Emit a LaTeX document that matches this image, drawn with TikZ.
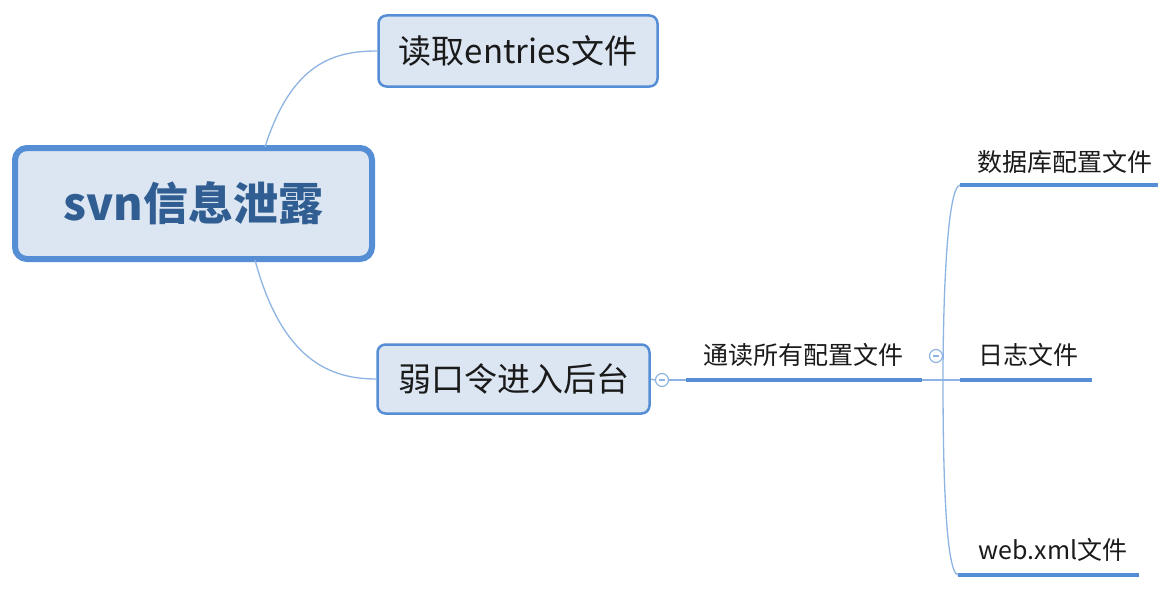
\documentclass[tikz,border=0pt]{standalone}
\usepackage{fontspec}
\setmainfont{Noto Sans CJK SC}
\definecolor{boxborder}{HTML}{558ED5}
\definecolor{boxfill}{HTML}{DCE6F2}
\definecolor{thinline}{HTML}{8DB4E2}
\definecolor{roottext}{HTML}{305E92}
\definecolor{plaintext}{HTML}{1A1A1A}
\tikzset{
  rootbox/.style={draw=boxborder, line width=6pt, fill=boxfill, rounded corners=12pt,
    minimum width=357pt, minimum height=111pt, inner sep=0pt,
    font=\fontsize{45}{50}\selectfont\bfseries, text=roottext},
  subbox/.style={draw=boxborder, line width=2.5pt, fill=boxfill, rounded corners=8pt,
    inner sep=0pt, font=\fontsize{33}{38}\selectfont, text=plaintext},
  leaftext/.style={inner sep=0pt, font=\fontsize{25}{30}\selectfont, text=plaintext},
  thin/.style={draw=thinline, line width=1.3pt},
  under/.style={draw=boxborder, line width=4pt},
  collapse/.style={circle, draw=thinline, line width=1.2pt, fill=white, minimum size=13pt, inner sep=0pt}
}
\begin{document}
\begin{tikzpicture}[x=1pt,y=-1pt]
\useasboundingbox (0,0) rectangle (1167,602);
\fill[white] (0,0) rectangle (1167,602);

% main nodes
\node[rootbox] (root) at (193.5,203.5) {svn信息泄露};
\node[subbox, minimum width=279pt, minimum height=71pt] (read) at (518,51) {读取entries文件};
\node[subbox, minimum width=272pt, minimum height=69pt] (weak) at (513.5,379) {弱口令进入后台};

% curved connectors
\coordinate (roottop) at (265,147);
\coordinate (rootbot) at (255,260);
\draw[thin] (roottop) .. controls (292,62) and (335,51) .. (read.west);
\draw[thin] (rootbot) .. controls (282,360) and (330,379) .. (weak.west);

% collapse button after weak
\node[collapse] (c1) at (662,380) {};
\draw[thinline, line width=1.2pt] ([xshift=-3pt]c1.center) -- ([xshift=3pt]c1.center);
\draw[thin] (weak.east) -- (c1.west);

% topic: read all config files
\node[leaftext] (allcfg) at (803,355) {通读所有配置文件};
\coordinate (u1s) at (686,380);
\coordinate (u1e) at (922,380);
\draw[thin] (c1.east) -- (u1s);
\draw[under] (u1s) -- (u1e);

\node[collapse] (c2) at (936,356) {};
\draw[thinline, line width=1.2pt] ([xshift=-3pt]c2.center) -- ([xshift=3pt]c2.center);

% children
\node[leaftext] (db) at (1065,162) {数据库配置文件};
\node[leaftext] (log) at (1028,355) {日志文件};
\node[leaftext] (web) at (1053,550) {web.xml文件};

\coordinate (dbs) at (960,185);
\coordinate (dbe) at (1158,185);
\coordinate (logs) at (960,380);
\coordinate (loge) at (1092,380);
\coordinate (webs) at (958,575);
\coordinate (webe) at (1139,575);

\draw[thin] (u1e) -- (logs);
\draw[thin] (dbs) .. controls (947,187) and (943,300) .. (943,380)
  .. controls (943,460) and (945,572) .. (webs);

\draw[under] (dbs) -- (dbe);
\draw[under] (logs) -- (loge);
\draw[under] (webs) -- (webe);
\end{tikzpicture}
\end{document}
